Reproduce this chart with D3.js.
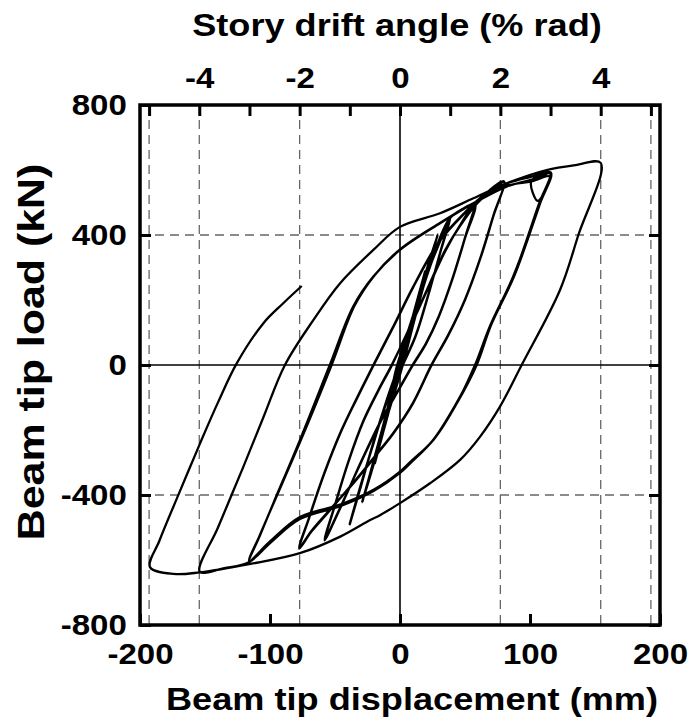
<!DOCTYPE html>
<html>
<head>
<meta charset="utf-8">
<script src="https://cdn.jsdelivr.net/npm/d3@7"></script>
<style>
body { margin: 0; background: #fff; }
text { font-family: "Liberation Sans", Arial, sans-serif; font-weight: bold; fill: #000; }
</style>
</head>
<body>
<script>
// tick values
var dispTicks = [-200, -100, 0, 100, 200];
var loadTicks = [-800, -400, 0, 400, 800];
var driftTicks = [-5, -4, -3, -2, -1, 0, 1, 2, 3, 4, 5];
var driftGrid = [-5, -4, -2, 2, 4, 5];
var loadGrid = [-400, 400];
var mmPerPct = 38.6; // beam tip displacement for 1 % rad

// hysteresis path, [displacement mm, load kN]
var cyc0375 = [[0, 0], [7, 105], [14.5, 215], [7, 95], [0, -8], [-7, -110], [-14.5, -225], [-7, -115], [0, 6],
    [7, 108], [14.5, 218], [7, 98], [0, -5], [-7, -108], [-14.5, -228], [-7, -118], [0, 4]];
var cyc05 = [[10, 148], [19.3, 285], [10, 150], [1, 12], [-10, -150], [-19.3, -300], [-10, -162], [-1, -14],
    [10, 146], [19.3, 288], [10, 152], [1, 10], [-10, -152], [-19.3, -302], [-10, -160], [-1, -12]];
var cyc075 = [[10, 150], [20, 285], [29, 400], [20, 272], [10, 125], [2, 0], [-10, -160], [-20, -300], [-29, -420],
    [-20, -292], [-10, -142], [-2, 0], [10, 152], [20, 287], [29, 403], [20, 270], [10, 122], [2, -2],
    [-10, -162], [-20, -302], [-29, -423], [-20, -290], [-10, -140], [-2, 2]];
var cyc1 = [[10, 140], [22, 290], [31, 385], [39, 455], [32, 360], [22, 220], [12, 90], [2, 0], [-10, -110],
    [-22, -260], [-31, -380], [-38.6, -488], [-31, -385], [-21, -245], [-10, -105], [-1, 0], [10, 142],
    [22, 292], [31, 382], [39, 458], [32, 362], [22, 218], [12, 88], [2, -2], [-10, -112], [-22, -262],
    [-31, -382], [-38.6, -490], [-31, -386], [-21, -246], [-10, -106], [-1, 0]];
var cyc15 = [[10, 145], [25, 330], [38, 450], [48, 480], [57.7, 495], [50, 390], [40, 260], [30, 150], [20, 65],
    [10, 0], [0, -70], [-15, -175], [-30, -300], [-45, -430], [-58, -538], [-50, -430], [-40, -300],
    [-28, -170], [-17, -80], [-6.4, 0], [5, 92], [20, 222], [35, 352], [48, 442], [57.7, 498], [50, 392],
    [40, 262], [30, 152], [20, 67], [10, 2], [0, -68], [-15, -173], [-30, -298], [-45, -432], [-58, -540],
    [-50, -432], [-40, -302], [-28, -172], [-17, -82], [-6.4, -2]];
var cyc2 = [[5, 95], [20, 225], [35, 355], [50, 450], [60, 500], [70, 535], [80, 563], [72, 460], [62, 330],
    [50, 200], [37, 90], [24.4, 0], [10, -118], [-5, -210], [-15, -261], [-35, -360], [-55, -450],
    [-68, -510], [-77.5, -563], [-70, -470], [-58, -330], [-45, -200], [-33, -100], [-20.5, 0], [-5, 120],
    [10, 240], [30, 380], [50, 470], [65, 525], [80, 565], [72, 462], [62, 332], [50, 202], [37, 92],
    [24.4, 2], [10, -116], [-5, -208], [-15, -259], [-35, -358], [-55, -452], [-68, -512], [-77.5, -565],
    [-70, -472], [-58, -332], [-45, -202], [-33, -102], [-20.5, -2], [-5, 118], [10, 238], [30, 378],
    [50, 468], [65, 524], [82, 558], [100, 578], [116, 592]];
var cyc3 = [[107.7, 497], [87, 272], [69, 118], [57.7, 0], [43.6, -118], [25.6, -231], [8, -300], [0, -330],
    [-20, -385], [-45, -430], [-77, -470], [-100, -545], [-116, -605], [-108, -527], [-97.4, -425],
    [-77, -231], [-54, 0], [-36, 180], [-20.5, 272], [0, 354], [30.8, 436], [56.4, 497], [82, 549],
    [105, 574], [116, 590], [108, 500], [88, 275], [70, 122], [59, 0], [44, -116], [26, -229], [8, -298],
    [0, -328], [-20, -383], [-45, -428], [-77, -468], [-100, -543], [-116, -603], [-108, -525],
    [-97, -423], [-76, -229], [-52.6, 0], [-35, 182], [-20, 274], [0, 356], [31, 438], [57, 499],
    [82, 551], [101, 565], [115, 580], [106, 505], [101, 566], [115.4, 590], [107, 497], [87, 270],
    [69, 116], [58, -2], [43, -120], [25, -233], [8, -302], [0, -332], [-20, -387], [-45, -433],
    [-77, -474], [-100, -548], [-116, -606], [-135, -625], [-154, -636]];
var cyc4 = [[-140, -500], [-121, -318], [-105, -160], [-88.5, 0], [-66.7, 138], [-46.2, 251], [-20.5, 354],
    [0, 425], [30.8, 467], [56.4, 513], [82, 559], [112.8, 600], [135, 615], [154.4, 622]];
var cycLast = [[137.2, 400], [123, 230], [93.6, 0], [76.9, -128], [61.5, -221], [46.2, -292], [23.1, -364],
    [0, -425], [-15.4, -462], [-23, -477], [-46, -528], [-77, -579], [-115, -612], [-154, -638],
    [-174, -643], [-192.3, -622], [-185, -540], [-170, -395], [-153.8, -241], [-140, -115], [-125.6, 5],
    [-105.2, 128], [-89.8, 190], [-75.6, 243]];

var path = [].concat(cyc0375, cyc05, cyc075, cyc1, cyc15, cyc2, cyc3, cyc4, cycLast);

var margin = { top: 105, left: 140 },
    width = 520,
    height = 520;

var x = d3.scaleLinear().domain([-200, 200]).range([0, width]);
var y = d3.scaleLinear().domain([-800, 800]).range([height, 0]);
var xd = d3.scaleLinear().domain([-200 / mmPerPct, 200 / mmPerPct]).range([0, width]);

var svg = d3.select("body").append("svg")
    .attr("width", 689)
    .attr("height", 726);
var g = svg.append("g")
    .attr("transform", "translate(" + margin.left + "," + margin.top + ")");

// dashed grid
g.selectAll(".vgrid").data(driftGrid).enter().append("line")
    .attr("x1", function (d) { return xd(d); })
    .attr("x2", function (d) { return xd(d); })
    .attr("y1", 0).attr("y2", height)
    .attr("stroke", "#666").attr("stroke-width", 1.3).attr("stroke-dasharray", "9,6");
g.selectAll(".hgrid").data(loadGrid).enter().append("line")
    .attr("x1", 0).attr("x2", width)
    .attr("y1", function (d) { return y(d); })
    .attr("y2", function (d) { return y(d); })
    .attr("stroke", "#666").attr("stroke-width", 1.3).attr("stroke-dasharray", "9,6");

// zero lines
g.append("line").attr("x1", x(0)).attr("x2", x(0)).attr("y1", 0).attr("y2", height)
    .attr("stroke", "#000").attr("stroke-width", 1.6);
g.append("line").attr("x1", 0).attr("x2", width).attr("y1", y(0)).attr("y2", y(0))
    .attr("stroke", "#000").attr("stroke-width", 1.6);

// the curve
var line = d3.line()
    .x(function (d) { return x(d[0]); })
    .y(function (d) { return y(d[1]); })
    .curve(d3.curveCatmullRom.alpha(0.5));
g.append("path")
    .datum(path)
    .attr("fill", "none")
    .attr("stroke", "#000")
    .attr("stroke-width", 2.3)
    .attr("stroke-linejoin", "round")
    .attr("d", line);

// axes
function styleAxis(sel) {
    sel.attr("font-size", 30)
        .attr("font-family", "'Liberation Sans', Arial, sans-serif")
        .attr("font-weight", "bold");
    sel.select(".domain").remove();
    sel.selectAll(".tick line").attr("stroke", "#000").attr("stroke-width", 3);
    sel.selectAll(".tick text").attr("fill", "#000").attr("transform", "scale(1.1,1)");
}
var fmt = function (d) { return String(d); };

g.append("g")
    .attr("transform", "translate(0," + height + ")")
    .call(d3.axisBottom(x).tickValues(dispTicks).tickFormat(fmt).tickSizeInner(-11).tickSizeOuter(0).tickPadding(18))
    .call(styleAxis);
g.append("g")
    .call(d3.axisTop(xd).tickValues(driftTicks)
        .tickFormat(function (d) { return d % 2 === 0 ? String(d) : ""; })
        .tickSizeInner(-11).tickSizeOuter(0).tickPadding(17))
    .call(styleAxis);
g.append("g")
    .call(d3.axisLeft(y).tickValues(loadTicks).tickFormat(fmt).tickSizeInner(-11).tickSizeOuter(0).tickPadding(12))
    .call(styleAxis);
g.append("g")
    .attr("transform", "translate(" + width + ",0)")
    .call(d3.axisRight(y).tickValues(loadTicks).tickFormat("").tickSizeInner(-11).tickSizeOuter(0))
    .call(styleAxis);

// frame
g.append("rect")
    .attr("x", 0).attr("y", 0).attr("width", width).attr("height", height)
    .attr("fill", "none").attr("stroke", "#000").attr("stroke-width", 3.5);

// titles
svg.append("text")
    .attr("transform", "translate(397,36) scale(1.13,1)")
    .attr("text-anchor", "middle").attr("font-size", 32)
    .text("Story drift angle (% rad)");
svg.append("text")
    .attr("transform", "translate(412,710) scale(1.13,1)")
    .attr("text-anchor", "middle").attr("font-size", 32)
    .text("Beam tip displacement (mm)");
svg.append("text")
    .attr("transform", "translate(44,352) rotate(-90) scale(1.16,1)")
    .attr("text-anchor", "middle").attr("font-size", 37)
    .text("Beam tip load (kN)");
</script>
</body>
</html>
